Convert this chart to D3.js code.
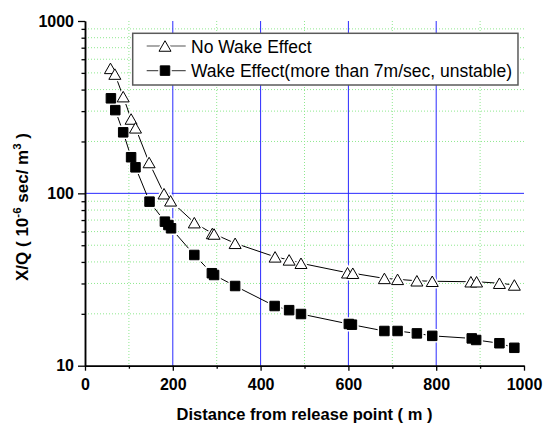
<!DOCTYPE html>
<html>
<head>
<meta charset="utf-8">
<script src="https://cdn.jsdelivr.net/npm/d3@7.9.0/dist/d3.min.js"></script>
<style>
  body { margin: 0; background: #fff; }
  svg { display: block; font-family: "Liberation Sans", Arial, sans-serif; }
  .tick text { font-size: 16px; font-weight: bold; fill: #000; }
</style>
</head>
<body>
<svg width="544" height="423"></svg>
<script>
// values
const distNoWake = [58, 68, 87, 105, 115, 146, 180, 195, 249, 290, 294, 342, 433, 465, 492, 598, 610, 682, 712, 756, 791, 879, 892, 944, 978];
const noWake = [531, 492, 364, 270, 240, 151, 99.5, 90.5, 67.6, 58.5, 58.1, 51.3, 42.8, 41.1, 39.3, 34.6, 34.4, 32.1, 31.7, 31.1, 30.9, 30.7, 30.7, 30.1, 29.4];

const distWake = [59, 69, 87, 105, 115, 147, 182, 190, 196, 249, 289, 294, 342, 432, 465, 492, 601, 608, 682, 712, 756, 791, 881, 891, 944, 978];
const wake = [356, 304, 226, 162, 141.6, 89.5, 68.5, 65.5, 62.7, 43.9, 34.4, 33.6, 29.0, 22.2, 21.0, 19.95, 17.46, 17.3, 15.9, 15.9, 15.4, 14.9, 14.4, 14.1, 13.5, 12.7];

const xMajor = [0, 200, 400, 600, 800, 1000];
const xMinor = [100, 300, 500, 700, 900];
const yMajor = [10, 100, 1000];
const yMinor = [20, 30, 40, 50, 60, 70, 80, 90, 200, 300, 400, 500, 600, 700, 800, 900];

const legendLabels = ['No Wake Effect', 'Wake Effect(more than 7m/sec, unstable)'];

const svg = d3.select('svg');
const plotL = 85, plotR = 524, plotT = 21, plotB = 365.7;

const x = d3.scaleLinear().domain([0, 1000]).range([plotL, plotR]);
const y = d3.scaleLog().domain([10, 1000]).range([plotB, plotT]);

// minor grid (green dotted)
svg.append('g').selectAll('line')
    .data(xMinor)
    .join('line')
    .attr('x1', d => x(d)).attr('x2', d => x(d))
    .attr('y1', plotT).attr('y2', plotB)
    .attr('stroke', '#8fe88f')
    .attr('stroke-dasharray', '1,2');

svg.append('g').selectAll('line')
    .data(yMinor)
    .join('line')
    .attr('x1', plotL).attr('x2', plotR)
    .attr('y1', d => y(d)).attr('y2', d => y(d))
    .attr('stroke', '#8fe88f')
    .attr('stroke-dasharray', '1,2');

// major grid (blue)
svg.append('g').selectAll('line')
    .data(xMajor.slice(1, -1))
    .join('line')
    .attr('x1', d => x(d)).attr('x2', d => x(d))
    .attr('y1', plotT).attr('y2', plotB)
    .attr('stroke', '#2a2aff');

svg.append('line')
    .attr('x1', plotL).attr('x2', plotR)
    .attr('y1', y(100)).attr('y2', y(100))
    .attr('stroke', '#2a2aff');

// axes
svg.append('g')
    .attr('transform', `translate(0,${plotB})`)
    .call(d3.axisBottom(x).tickValues(xMajor).tickSize(5).tickSizeOuter(0).tickPadding(8).tickFormat(d3.format('d')));
svg.append('g')
    .attr('transform', `translate(0,${plotB})`)
    .call(d3.axisBottom(x).tickValues(xMinor).tickSize(3).tickSizeOuter(0).tickFormat(''));

svg.append('g')
    .attr('transform', `translate(${plotL},0)`)
    .call(d3.axisLeft(y).tickValues(yMajor).tickSize(7).tickSizeOuter(0).tickPadding(4).tickFormat(d3.format('d')));
svg.append('g')
    .attr('transform', `translate(${plotL},0)`)
    .call(d3.axisLeft(y).tickValues(yMinor).tickSize(3.5).tickSizeOuter(0).tickFormat(''));

svg.selectAll('.domain').attr('stroke', '#000').attr('stroke-width', 1.5);
svg.selectAll('.tick line').attr('stroke', '#000').attr('stroke-width', 1.3);

// axis titles
svg.append('text')
    .attr('x', (plotL + plotR) / 2)
    .attr('y', 420)
    .attr('text-anchor', 'middle')
    .attr('font-size', 16.5)
    .attr('font-weight', 'bold')
    .text('Distance from release point ( m )');

const yTitle = svg.append('text')
    .attr('transform', 'translate(28,207) rotate(-90)')
    .attr('text-anchor', 'middle')
    .attr('font-size', 17)
    .attr('font-weight', 'bold');
yTitle.append('tspan').text('X/Q ( 10');
yTitle.append('tspan').attr('font-size', 11.5).attr('dy', -7).text('-6');
yTitle.append('tspan').attr('dy', 7).text(' sec/ m');
yTitle.append('tspan').attr('font-size', 11.5).attr('dy', -7).text('3');
yTitle.append('tspan').attr('dy', 7).text(' )');

// markers
const triW = 12, triH = 10.5, sq = 9.5;
const triPath = `M0,${-triH / 2}L${triW / 2},${triH / 2}L${-triW / 2},${triH / 2}Z`;
const sqPath = `M${-sq / 2},${-sq / 2}h${sq}v${sq}h${-sq}Z`;

const series = [
    { xs: distNoWake, ys: noWake, path: triPath, fill: '#fff' },
    { xs: distWake, ys: wake, path: sqPath, fill: '#000' },
];

const line = d3.line().x(d => x(d[0])).y(d => y(d[1]));

series.forEach(s => {
    const pts = s.xs.map((d, i) => [d, s.ys[i]]);
    svg.append('path')
        .attr('d', line(pts))
        .attr('fill', 'none')
        .attr('stroke', '#000')
        .attr('stroke-width', 1);
});

// white halo so the line breaks around each symbol
series.forEach(s => {
    const pts = s.xs.map((d, i) => [d, s.ys[i]]);
    svg.append('g').selectAll('path')
        .data(pts)
        .join('path')
        .attr('transform', d => `translate(${x(d[0])},${y(d[1])})`)
        .attr('d', s.path)
        .attr('fill', '#fff')
        .attr('stroke', '#fff')
        .attr('stroke-width', 4);
});

series.forEach(s => {
    const pts = s.xs.map((d, i) => [d, s.ys[i]]);
    svg.append('g').selectAll('path')
        .data(pts)
        .join('path')
        .attr('transform', d => `translate(${x(d[0])},${y(d[1])})`)
        .attr('d', s.path)
        .attr('fill', s.fill)
        .attr('stroke', '#000')
        .attr('stroke-width', 1);
});

// legend
const legend = svg.append('g');
const legendBox = legend.append('rect')
    .attr('x', 132.7).attr('y', 33.3)
    .attr('height', 51.7)
    .attr('fill', '#fff')
    .attr('stroke', '#5a5a5a')
    .attr('stroke-width', 1.5);

let maxRight = 0;
legendLabels.forEach((label, i) => {
    const cy = 46 + i * 24.6;
    legend.append('line')
        .attr('x1', 146.7).attr('x2', 185.7)
        .attr('y1', cy).attr('y2', cy)
        .attr('stroke', '#555')
        .attr('stroke-width', 1.2);
    legend.append('path')
        .attr('transform', `translate(165,${cy})`)
        .attr('d', series[i].path)
        .attr('fill', '#fff')
        .attr('stroke', '#fff')
        .attr('stroke-width', 4);
    legend.append('path')
        .attr('transform', `translate(165,${cy})`)
        .attr('d', series[i].path)
        .attr('fill', series[i].fill)
        .attr('stroke', '#000');
    const t = legend.append('text')
        .attr('x', 191)
        .attr('y', cy + 6.5)
        .attr('font-size', 17.5)
        .text(label);
    maxRight = Math.max(maxRight, 191 + t.node().getComputedTextLength());
});
legendBox.attr('width', maxRight + 6 - 132.7);
</script>
</body>
</html>
